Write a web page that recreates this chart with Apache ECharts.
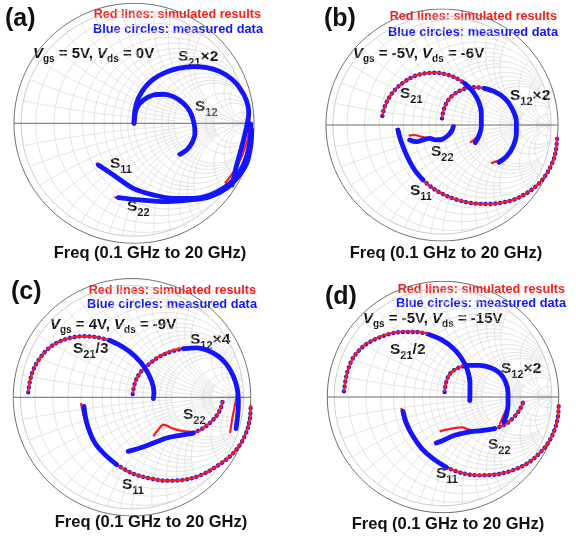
<!DOCTYPE html>
<html>
<head>
<meta charset="utf-8">
<script src="https://cdn.jsdelivr.net/npm/echarts@6/dist/echarts.min.js"></script>
<style>html,body{margin:0;padding:0;background:#fff}#chart{width:576px;height:536px}</style>
</head>
<body>
<div id="chart"></div>
<script>
// S-parameter loci as [Re, Im] reflection-plane points; *_meas = measured, *_sim = simulated.

// (a) Vgs = 5V, Vds = 0V
const a_S11_meas = [[-0.297,-0.347],[-0.172,-0.431],[-0.006,-0.542],[0.161,-0.597],[0.328,-0.625],[0.494,-0.625],[0.633,-0.597],[0.744,-0.542],[0.842,-0.458],[0.911,-0.347],[0.953,-0.222],[0.972,-0.083],[0.972,-0.006]];
const a_S11_sim  = [[-0.318,-0.333],[-0.172,-0.431],[-0.006,-0.542],[0.161,-0.597],[0.328,-0.625],[0.494,-0.625],[0.633,-0.597],[0.744,-0.542],[0.842,-0.458],[0.911,-0.347],[0.953,-0.222],[0.972,-0.083],[0.972,-0.006]];
const a_S21_meas = [[0,0],[0.008,0.11],[0.036,0.208],[0.092,0.3],[0.161,0.367],[0.258,0.422],[0.369,0.458],[0.494,0.472],[0.606,0.464],[0.717,0.431],[0.814,0.369],[0.883,0.292],[0.936,0.194],[0.957,0.09],[0.94,-0.02],[0.915,-0.13],[0.883,-0.25],[0.85,-0.37],[0.835,-0.44],[0.817,-0.514]];
const a_S21_sim  = [[0,0],[0.008,0.11],[0.036,0.208],[0.092,0.3],[0.161,0.367],[0.258,0.422],[0.369,0.458],[0.494,0.476],[0.606,0.468],[0.717,0.434],[0.814,0.372],[0.883,0.294],[0.936,0.194],[0.957,0.09],[0.962,-0.02],[0.945,-0.14],[0.9,-0.27],[0.84,-0.39],[0.758,-0.5]];
const a_S12_meas = [[0,0],[0.022,0.125],[0.078,0.194],[0.161,0.236],[0.244,0.242],[0.328,0.222],[0.411,0.167],[0.467,0.097],[0.5,0],[0.508,-0.083],[0.481,-0.167],[0.439,-0.222],[0.383,-0.258]];
const a_S12_sim  = [[0,0],[0.022,0.125],[0.078,0.194],[0.161,0.236],[0.244,0.242],[0.328,0.222],[0.411,0.167],[0.467,0.097],[0.5,0],[0.508,-0.083],[0.481,-0.167],[0.439,-0.222],[0.362,-0.262]];
const a_S22_meas = [[-0.131,-0.619],[0.05,-0.639],[0.272,-0.653],[0.467,-0.639],[0.633,-0.611],[0.772,-0.542],[0.869,-0.444],[0.939,-0.333],[0.972,-0.194],[0.981,-0.056]];
const a_S22_sim  = [[-0.165,-0.616],[0.05,-0.639],[0.272,-0.653],[0.467,-0.639],[0.633,-0.611],[0.772,-0.542],[0.869,-0.444],[0.939,-0.333],[0.972,-0.194],[0.981,-0.056]];

// (b) Vgs = -5V, Vds = -6V
const b_S11_meas = [[-0.379,-0.043],[-0.365,-0.101],[-0.336,-0.187],[-0.293,-0.287],[-0.236,-0.388],[-0.164,-0.474],[-0.078,-0.546],[0.023,-0.603],[0.138,-0.647],[0.267,-0.675],[0.397,-0.681],[0.511,-0.67],[0.626,-0.641],[0.727,-0.589],[0.813,-0.526],[0.885,-0.445],[0.943,-0.345],[0.98,-0.23],[0.994,-0.101]];
const b_S11_sim  = [[-0.394,-0.029],[-0.375,-0.101],[-0.343,-0.187],[-0.298,-0.287],[-0.238,-0.388],[-0.164,-0.474],[-0.078,-0.546],[0.023,-0.603],[0.138,-0.647],[0.267,-0.675],[0.397,-0.681],[0.511,-0.67],[0.626,-0.641],[0.727,-0.589],[0.813,-0.526],[0.885,-0.445],[0.943,-0.345],[0.98,-0.23],[0.994,-0.101]];
const b_S21_meas = [[-0.514,0.078],[-0.494,0.158],[-0.451,0.244],[-0.394,0.316],[-0.322,0.374],[-0.236,0.422],[-0.149,0.445],[-0.063,0.451],[0.023,0.44],[0.109,0.411],[0.195,0.359],[0.267,0.287],[0.316,0.201],[0.339,0.101],[0.339,-0.014],[0.316,-0.101],[0.287,-0.152]];
const b_S21_sim  = [[-0.514,0.078],[-0.494,0.158],[-0.451,0.244],[-0.394,0.316],[-0.322,0.374],[-0.236,0.422],[-0.149,0.445],[-0.063,0.451],[0.023,0.44],[0.109,0.411],[0.195,0.359],[0.267,0.287],[0.316,0.201],[0.339,0.101],[0.337,-0.014],[0.305,-0.095],[0.241,-0.152]];
const b_S12_meas = [[0,0.057],[0.023,0.158],[0.066,0.23],[0.124,0.279],[0.195,0.313],[0.282,0.325],[0.368,0.316],[0.454,0.287],[0.54,0.23],[0.603,0.144],[0.641,0.029],[0.641,-0.072],[0.612,-0.187],[0.555,-0.273],[0.491,-0.322]];
const b_S12_sim  = [[0,0.057],[0.023,0.158],[0.066,0.23],[0.124,0.279],[0.195,0.313],[0.282,0.325],[0.368,0.316],[0.454,0.287],[0.54,0.23],[0.603,0.144],[0.641,0.029],[0.638,-0.072],[0.598,-0.216],[0.526,-0.287],[0.422,-0.33]];
const b_S22_meas = [[-0.279,-0.129],[-0.221,-0.144],[-0.164,-0.129],[-0.106,-0.115],[-0.049,-0.129],[0,-0.124],[0.046,-0.095],[0.08,-0.057],[0.098,-0.014]];
const b_S22_sim  = [[-0.287,-0.092],[-0.236,-0.086],[-0.178,-0.101],[-0.121,-0.115],[-0.049,-0.129],[0,-0.124],[0.046,-0.095],[0.08,-0.057],[0.098,-0.014]];

// (c) Vgs = 4V, Vds = -9V
const c_S11_meas = [[-0.404,-0.076],[-0.396,-0.146],[-0.368,-0.258],[-0.312,-0.385],[-0.228,-0.483],[-0.129,-0.567],[-0.003,-0.638],[0.138,-0.68],[0.292,-0.702],[0.447,-0.694],[0.587,-0.652],[0.713,-0.581],[0.826,-0.497],[0.91,-0.399],[0.966,-0.287],[0.994,-0.174],[1.0,-0.062]];
const c_S11_sim  = [[-0.43,-0.048],[-0.41,-0.146],[-0.378,-0.258],[-0.318,-0.385],[-0.23,-0.483],[-0.129,-0.567],[-0.003,-0.638],[0.138,-0.68],[0.292,-0.702],[0.447,-0.694],[0.587,-0.652],[0.713,-0.581],[0.826,-0.497],[0.91,-0.399],[0.966,-0.287],[0.994,-0.174],[1.0,-0.062]];
const c_S21_meas = [[-0.874,0.042],[-0.86,0.135],[-0.831,0.233],[-0.775,0.331],[-0.705,0.41],[-0.621,0.466],[-0.522,0.5],[-0.41,0.514],[-0.298,0.506],[-0.185,0.478],[-0.073,0.421],[0.025,0.346],[0.11,0.247],[0.166,0.135],[0.185,0.037],[0.18,-0.011]];
const c_S21_sim  = [[-0.874,0.042],[-0.86,0.135],[-0.831,0.233],[-0.775,0.331],[-0.705,0.41],[-0.621,0.466],[-0.522,0.5],[-0.41,0.514],[-0.298,0.506],[-0.185,0.478],[-0.073,0.421],[0.025,0.346],[0.11,0.247],[0.166,0.135],[0.185,0.037],[0.18,-0.011]];
const c_S12_meas = [[0.006,0.028],[0.025,0.121],[0.067,0.205],[0.138,0.275],[0.222,0.337],[0.32,0.382],[0.433,0.41],[0.545,0.416],[0.643,0.393],[0.728,0.346],[0.798,0.275],[0.854,0.177],[0.888,0.065],[0.896,-0.062],[0.888,-0.174],[0.876,-0.264]];
const c_S12_sim  = [[0.006,0.028],[0.025,0.121],[0.067,0.205],[0.138,0.278],[0.222,0.341],[0.32,0.387],[0.433,0.415],[0.545,0.42],[0.643,0.397],[0.728,0.349],[0.798,0.277],[0.854,0.177],[0.888,0.065],[0.868,-0.062],[0.846,-0.174],[0.826,-0.301]];
const c_S22_meas = [[-0.031,-0.455],[0.067,-0.427],[0.18,-0.385],[0.292,-0.343],[0.404,-0.32],[0.517,-0.301],[0.601,-0.258],[0.671,-0.202],[0.728,-0.132],[0.756,-0.067],[0.764,-0.028]];
const c_S22_sim  = [[0.18,-0.329],[0.222,-0.272],[0.264,-0.23],[0.348,-0.264],[0.447,-0.287],[0.545,-0.292],[0.601,-0.258],[0.671,-0.202],[0.728,-0.132],[0.756,-0.067],[0.764,-0.028]];

// (d) Vgs = -5V, Vds = -15V
const d_S11_meas = [[-0.346,-0.124],[-0.317,-0.225],[-0.259,-0.34],[-0.187,-0.441],[-0.086,-0.533],[0.029,-0.608],[0.159,-0.657],[0.303,-0.677],[0.447,-0.671],[0.591,-0.637],[0.72,-0.579],[0.821,-0.499],[0.908,-0.398],[0.965,-0.282],[0.994,-0.167],[1.0,-0.061]];
const d_S11_sim  = [[-0.36,-0.095],[-0.33,-0.225],[-0.266,-0.34],[-0.19,-0.441],[-0.086,-0.533],[0.029,-0.608],[0.159,-0.657],[0.303,-0.677],[0.447,-0.671],[0.591,-0.637],[0.72,-0.579],[0.821,-0.499],[0.908,-0.398],[0.965,-0.282],[0.994,-0.167],[1.0,-0.061]];
const d_S21_meas = [[-0.856,0.049],[-0.844,0.135],[-0.821,0.236],[-0.778,0.337],[-0.72,0.409],[-0.648,0.467],[-0.562,0.51],[-0.461,0.545],[-0.346,0.562],[-0.231,0.562],[-0.115,0.539],[-0.014,0.496],[0.086,0.424],[0.159,0.337],[0.21,0.236],[0.233,0.121],[0.233,0.02],[0.231,-0.032]];
const d_S21_sim  = [[-0.856,0.049],[-0.844,0.135],[-0.821,0.236],[-0.778,0.337],[-0.72,0.412],[-0.648,0.47],[-0.562,0.514],[-0.461,0.549],[-0.346,0.566],[-0.231,0.566],[-0.115,0.543],[-0.014,0.5],[0.086,0.427],[0.159,0.339],[0.21,0.236],[0.233,0.121],[0.233,0.02],[0.231,-0.032]];
const d_S12_meas = [[0.014,0.043],[0.029,0.135],[0.066,0.207],[0.13,0.251],[0.216,0.274],[0.317,0.274],[0.418,0.251],[0.49,0.207],[0.539,0.135],[0.562,0.035],[0.562,-0.066],[0.548,-0.153],[0.527,-0.216]];
const d_S12_sim  = [[0.014,0.043],[0.029,0.135],[0.066,0.207],[0.13,0.251],[0.216,0.277],[0.317,0.278],[0.418,0.255],[0.49,0.21],[0.539,0.135],[0.562,0.035],[0.56,-0.066],[0.519,-0.167],[0.49,-0.239]];
const d_S22_meas = [[-0.058,-0.398],[0.014,-0.369],[0.101,-0.331],[0.216,-0.303],[0.331,-0.291],[0.447,-0.274],[0.533,-0.239],[0.605,-0.182],[0.663,-0.11],[0.697,-0.032]];
const d_S22_sim  = [[-0.029,-0.297],[0.072,-0.274],[0.159,-0.262],[0.239,-0.285],[0.331,-0.291],[0.447,-0.274],[0.533,-0.239],[0.605,-0.182],[0.663,-0.11],[0.697,-0.032]];

// Smith chart grid: [normalized value, extent of the line along the other coordinate]
const gridR = [[0.1,2],[0.2,Infinity],[0.3,2],[0.4,5],[0.5,2],[0.6,5],[0.7,2],[0.8,5],[0.9,2],[1,Infinity],[1.2,5],[1.4,5],[1.6,5],[1.8,5],[2,Infinity],[3,10],[4,10],[5,Infinity],[10,Infinity],[20,Infinity]];
const gridX = [[0.1,2],[0.2,Infinity],[0.3,2],[0.4,5],[0.5,2],[0.6,5],[0.7,2],[0.8,5],[0.9,2],[1,Infinity],[1.2,5],[1.4,5],[1.6,5],[1.8,5],[2,Infinity],[3,10],[4,10],[5,Infinity],[10,Infinity],[20,Infinity]];

const FONT = '"Liberation Sans", Arial, Helvetica, sans-serif';
const RED = '#ff1a1a', BLUE = '#1414ff';

// panel layout: disk bounding box (left, top, size) and annotation positions
// solid / dotted: index ranges of the measured locus drawn as a band or as a chain of circles
const panels = [
  { box: [14, 3.3, 240], tag: ['(a)', 5, 7],
    legend: [261, 8, 263, 23], bias: [33, 44, '5V', '0V'], freq: [150, 245],
    curves: [
      { meas: a_S12_meas, sim: a_S12_sim, solid: [0, 99] },
      { meas: a_S21_meas, sim: a_S21_sim, solid: [0, 99] },
      { meas: a_S22_meas, sim: a_S22_sim, solid: [0, 99] },
      { meas: a_S11_meas, sim: a_S11_sim, solid: [0, 99] }
    ],
    labels: [ ['S', '21', '×2', 178, 46], ['S', '12', '', 195, 96], ['S', '11', '', 110, 153], ['S', '22', '', 127, 196] ] },
  { box: [326, 9, 232], tag: ['(b)', 324, 7],
    legend: [557, 10, 558, 26], bias: [353, 44, '-5V', '-6V'], freq: [446, 245],
    curves: [
      { meas: b_S21_meas, sim: b_S21_sim, dotted: [0, 10], solid: [10, 99] },
      { meas: b_S12_meas, sim: b_S12_sim, dotted: [0, 6], solid: [6, 99] },
      { meas: b_S22_meas, sim: b_S22_sim, solid: [0, 99] },
      { meas: b_S11_meas, sim: b_S11_sim, solid: [0, 5], dotted: [5, 99] }
    ],
    labels: [ ['S', '21', '', 400, 83], ['S', '12', '×2', 510, 85], ['S', '22', '', 431, 141], ['S', '11', '', 410, 180] ] },
  { box: [13.3, 278.6, 237.4], tag: ['(c)', 11, 280],
    legend: [256, 284, 257, 298], bias: [50, 315, '4V', '-9V'], freq: [151, 514],
    curves: [
      { meas: c_S21_meas, sim: c_S21_sim, dotted: [0, 9], solid: [9, 99] },
      { meas: c_S12_meas, sim: c_S12_sim, dotted: [0, 6], solid: [6, 99] },
      { meas: c_S22_meas, sim: c_S22_sim, solid: [0, 5], dotted: [5, 99] },
      { meas: c_S11_meas, sim: c_S11_sim, solid: [0, 5], dotted: [5, 99] }
    ],
    labels: [ ['S', '21', '/3', 73, 338], ['S', '12', '×4', 190, 329], ['S', '22', '', 183, 404], ['S', '11', '', 122, 474] ] },
  { box: [327.3, 281.3, 231.4], tag: ['(d)', 325, 285],
    legend: [565, 283, 566, 297], bias: [363, 309, '-5V', '-15V'], freq: [448, 516],
    curves: [
      { meas: d_S21_meas, sim: d_S21_sim, dotted: [0, 10], solid: [10, 99] },
      { meas: d_S12_meas, sim: d_S12_sim, dotted: [0, 4], solid: [4, 99] },
      { meas: d_S22_meas, sim: d_S22_sim, solid: [0, 5], dotted: [5, 99] },
      { meas: d_S11_meas, sim: d_S11_sim, solid: [0, 5], dotted: [5, 99] }
    ],
    labels: [ ['S', '21', '/2', 390, 339], ['S', '12', '×2', 501, 358], ['S', '22', '', 488, 434], ['S', '11', '', 436, 463] ] }
];

// impedance z = r + jx mapped onto the reflection plane
function gamma(r, x) {
  const d = (r + 1) * (r + 1) + x * x;
  return [(r * r + x * x - 1) / d, 2 * x / d];
}
// split a sampled path into runs that stay inside radius lim
function clipRuns(pts, lim, out) {
  let run = [];
  pts.forEach(p => {
    if (p[0] * p[0] + p[1] * p[1] <= lim * lim) run.push(p);
    else { if (run.length > 1) out.push({ coords: run }); run = []; }
  });
  if (run.length > 1) out.push({ coords: run });
}
function smithLines(lim) {
  const out = [];
  const N = 300;
  gridR.forEach(([r, ext]) => {
    const tmax = ext === Infinity ? Math.PI / 2 - 1e-4 : Math.atan(ext);
    const pts = [];
    for (let i = 0; i <= N; i++) pts.push(gamma(r, Math.tan(-tmax + 2 * tmax * i / N)));
    clipRuns(pts, lim, out);
  });
  gridX.forEach(([x, ext]) => {
    const tmax = ext === Infinity ? Math.PI / 2 - 1e-4 : Math.atan(ext);
    [1, -1].forEach(s => {
      const pts = [];
      for (let i = 0; i <= N; i++) pts.push(gamma(Math.tan(tmax * i / N), s * x));
      clipRuns(pts, lim, out);
    });
  });
  return out;
}
function circlePts(rad) {
  const out = [];
  for (let i = 0; i <= 360; i++) {
    const t = 2 * Math.PI * i / 360;
    out.push([rad * Math.cos(t), rad * Math.sin(t)]);
  }
  return out;
}

const grids = [], xAxes = [], yAxes = [], series = [], graphics = [];
panels.forEach((p, k) => {
  const [l, t, s] = p.box;
  grids.push({ left: l, top: t, width: s, height: s });
  xAxes.push({ gridIndex: k, type: 'value', min: -1, max: 1, show: false });
  yAxes.push({ gridIndex: k, type: 'value', min: -1, max: 1, show: false });
  const base = { xAxisIndex: k, yAxisIndex: k, silent: true, animation: false };
  series.push(Object.assign({ type: 'lines', coordinateSystem: 'cartesian2d', polyline: true,
    data: smithLines(0.94), lineStyle: { color: '#d6d6d6', width: 0.7, opacity: 1 }, z: 1 }, base));
  series.push(Object.assign({ type: 'lines', coordinateSystem: 'cartesian2d', polyline: true,
    data: [{ coords: circlePts(0.94) }], lineStyle: { color: '#bcbcbc', width: 0.8, opacity: 1 }, z: 1 }, base));
  series.push(Object.assign({ type: 'lines', coordinateSystem: 'cartesian2d', polyline: true,
    data: [{ coords: circlePts(1) }, { coords: [[-1, 0], [1, 0]] }], lineStyle: { color: '#6a6a6a', width: 1, opacity: 1 }, z: 1 }, base));

  p.curves.forEach(cv => {
    series.push(Object.assign({ type: 'line', data: cv.sim, smooth: 0.35, showSymbol: false, clip: false,
      lineStyle: { color: RED, width: 2.2 }, z: 3 }, base));
    if (cv.solid) {
      series.push(Object.assign({ type: 'line', data: cv.meas.slice(cv.solid[0], cv.solid[1] + 1), smooth: 0.35,
        showSymbol: false, clip: false, lineStyle: { color: BLUE, width: 4.8, cap: 'round' }, z: 4 }, base));
    }
    if (cv.dotted) {
      series.push(Object.assign({ type: 'line', data: cv.meas.slice(cv.dotted[0], cv.dotted[1] + 1), smooth: 0.35,
        showSymbol: false, clip: false, lineStyle: { color: BLUE, width: 4.4, type: [0.1, 4.8], cap: 'round' }, z: 2 }, base));
    }
  });

  // annotations
  graphics.push({ type: 'text', x: p.tag[1], y: p.tag[2], silent: true,
    style: { text: p.tag[0], fontSize: 25, fontWeight: 'bold', fontFamily: FONT, fill: '#111', align: 'left', verticalAlign: 'top' } });
  graphics.push({ type: 'text', x: p.legend[0], y: p.legend[1], silent: true,
    style: { text: 'Red lines: simulated results', fontSize: 12.6, fontWeight: 'bold', fontFamily: FONT, fill: RED, align: 'right', verticalAlign: 'top' } });
  graphics.push({ type: 'text', x: p.legend[2], y: p.legend[3], silent: true,
    style: { text: 'Blue circles: measured data', fontSize: 12.8, fontWeight: 'bold', fontFamily: FONT, fill: BLUE, align: 'right', verticalAlign: 'top' } });
  graphics.push({ type: 'text', x: p.freq[0], y: p.freq[1], silent: true,
    style: { text: 'Freq (0.1 GHz to 20 GHz)', fontSize: 16.5, fontWeight: 'bold', fontFamily: FONT, fill: '#111', align: 'center', verticalAlign: 'top' } });
  graphics.push({ type: 'text', x: p.bias[0], y: p.bias[1], silent: true,
    style: {
      text: '{v|V}{s|gs}{t| = ' + p.bias[2] + ', }{v|V}{s|ds}{t| = ' + p.bias[3] + '}',
      align: 'left', verticalAlign: 'top',
      rich: {
        v: { fontSize: 15, fontWeight: 'bold', fontStyle: 'italic', fontFamily: FONT, fill: '#111', lineHeight: 20 },
        t: { fontSize: 15, fontWeight: 'bold', fontFamily: FONT, fill: '#111', lineHeight: 20 },
        s: { fontSize: 10, fontWeight: 'bold', fontFamily: FONT, fill: '#111', lineHeight: 11, verticalAlign: 'bottom' }
      }
    } });
  p.labels.forEach(lb => {
    graphics.push({ type: 'text', x: lb[3], y: lb[4], silent: true,
      style: {
        text: '{b|' + lb[0] + '}{s|' + lb[1] + '}' + (lb[2] ? '{b|' + lb[2] + '}' : ''),
        align: 'left', verticalAlign: 'top',
        rich: {
          b: { fontSize: 15.5, fontWeight: 'bold', fontFamily: FONT, fill: '#111', lineHeight: 22 },
          s: { fontSize: 11, fontWeight: 'bold', fontFamily: FONT, fill: '#111', lineHeight: 12, verticalAlign: 'bottom' }
        }
      } });
  });
});

const chart = echarts.init(document.getElementById('chart'), null, { renderer: 'canvas' });
chart.setOption({
  animation: false,
  backgroundColor: '#fff',
  grid: grids,
  xAxis: xAxes,
  yAxis: yAxes,
  series: series,
  graphic: graphics
});
</script>
</body>
</html>
